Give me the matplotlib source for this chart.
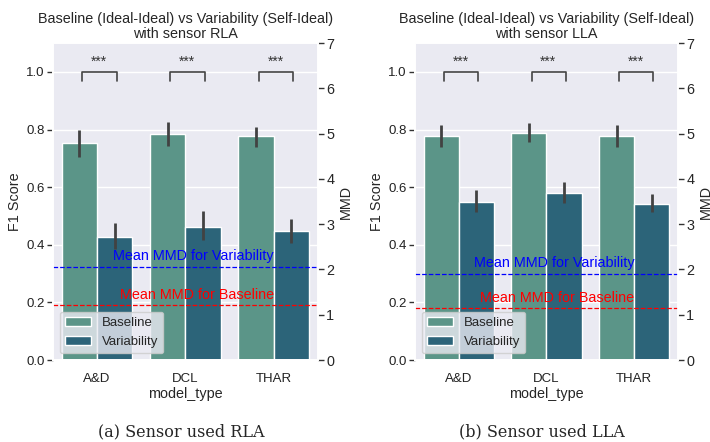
import matplotlib
matplotlib.use("Agg")
import matplotlib.pyplot as plt
import numpy as np
import seaborn as sns

sns.set_theme(style="darkgrid")
plt.rcParams['font.family'] = ['Liberation Sans', 'DejaVu Sans']

# valeurs
model_types = ['A&D', 'DCL', 'THAR']
sensors = ['RLA', 'LLA']
captions = ['(a) Sensor used RLA', '(b) Sensor used LLA']

baseline_f1 = {'RLA': [0.753, 0.784, 0.776], 'LLA': [0.776, 0.789, 0.778]}
baseline_lo = {'RLA': [0.706, 0.744, 0.741], 'LLA': [0.741, 0.755, 0.741]}
baseline_hi = {'RLA': [0.799, 0.825, 0.810], 'LLA': [0.814, 0.822, 0.814]}

variab_f1 = {'RLA': [0.428, 0.463, 0.448], 'LLA': [0.550, 0.581, 0.542]}
variab_lo = {'RLA': [0.384, 0.417, 0.407], 'LLA': [0.515, 0.544, 0.515]}
variab_hi = {'RLA': [0.476, 0.518, 0.491], 'LLA': [0.590, 0.617, 0.576]}

mean_mmd_variab = {'RLA': 2.06, 'LLA': 1.91}
mean_mmd_base = {'RLA': 1.21, 'LLA': 1.14}

col_base = '#5b9588'
col_var = '#2c6479'

fig = plt.figure(figsize=(7.1, 4.42), dpi=100)
positions = [[0.0746, 0.1855, 0.373, 0.717], [0.5845, 0.1855, 0.3704, 0.717]]

for i, s in enumerate(sensors):
    ax = fig.add_axes(positions[i])
    x = np.arange(len(model_types))
    w = 0.4

    b = np.array(baseline_f1[s])
    v = np.array(variab_f1[s])
    err_b = [b - np.array(baseline_lo[s]), np.array(baseline_hi[s]) - b]
    err_v = [v - np.array(variab_lo[s]), np.array(variab_hi[s]) - v]

    ax.bar(x - w / 2, b, w, color=col_base, edgecolor='white', linewidth=1, label='Baseline', zorder=2)
    ax.bar(x + w / 2, v, w, color=col_var, edgecolor='white', linewidth=1, label='Variability', zorder=2)
    ax.errorbar(x - w / 2, b, yerr=err_b, fmt='none', ecolor='#424242', elinewidth=2, zorder=3)
    ax.errorbar(x + w / 2, v, yerr=err_v, fmt='none', ecolor='#424242', elinewidth=2, zorder=3)

    # crochets de significativité
    for xi in x:
        x1, x2 = xi - 0.17, xi + 0.22
        ax.plot([x1, x1, x2, x2], [0.97, 1.0, 1.0, 0.97], color='#444444', lw=1.2, zorder=3)
        ax.text(xi + 0.02, 1.036, '***', ha='center', va='center', fontsize=10, color='#333333')

    ax.set_xlim(-0.5, 2.5)
    ax.set_ylim(0, 1.1)
    ax.set_yticks([0.0, 0.2, 0.4, 0.6, 0.8, 1.0])
    ax.set_xticks(x)
    ax.set_xticklabels(model_types)
    ax.xaxis.grid(False)
    ax.tick_params(axis='both', labelsize=9.5, colors='#222222')
    ax.tick_params(axis='y', left=True, length=4, width=1, color='#333333', pad=2)
    ax.set_xlabel('model_type', fontsize=10.4, labelpad=1)
    ax.set_ylabel('F1 Score', fontsize=10.4, labelpad=3)
    ax.set_title('Baseline (Ideal-Ideal) vs Variability (Self-Ideal)\nwith sensor ' + s,
                 fontsize=10.4, pad=4, linespacing=1.05)
    ax.legend(loc='lower left', fontsize=9.5, handlelength=2.0)

    ax2 = ax.twinx()
    ax2.set_ylim(0, 7)
    ax2.set_yticks(range(8))
    ax2.grid(False)
    ax2.tick_params(axis='y', right=True, length=4, width=1, color='#333333', labelsize=10.4, pad=2)
    ax2.set_ylabel('MMD', fontsize=10.4, labelpad=3)
    ax2.axhline(mean_mmd_variab[s], color='blue', ls='--', lw=0.9)
    ax2.axhline(mean_mmd_base[s], color='red', ls='--', lw=0.9)
    ax2.text(2, mean_mmd_variab[s] + 0.08, 'Mean MMD for Variability', color='blue',
             ha='right', va='bottom', fontsize=10.4)
    ax2.text(2, mean_mmd_base[s] + 0.08, 'Mean MMD for Baseline', color='red',
             ha='right', va='bottom', fontsize=10.4)

    fig.text(positions[i][0] + positions[i][2] / 2 - 0.006, 0.022, captions[i], ha='center', va='center',
             fontsize=11.5, family='DejaVu Serif')

fig.savefig('out.png', dpi=100, facecolor='white')
